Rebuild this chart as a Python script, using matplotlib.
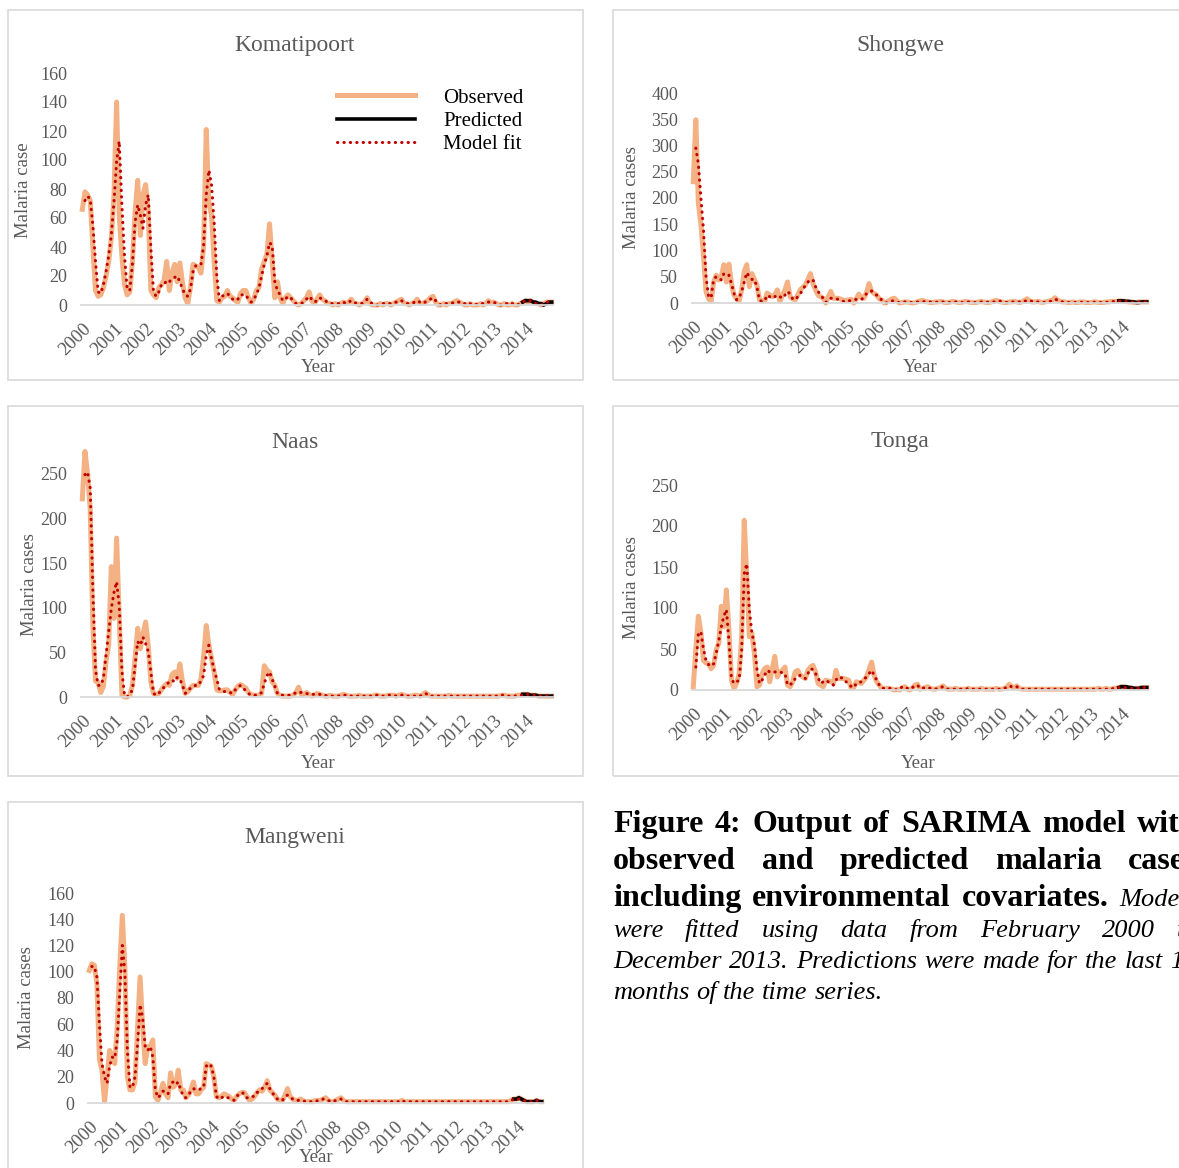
import numpy as np
import matplotlib
matplotlib.use('Agg')
import matplotlib.pyplot as plt
from matplotlib.lines import Line2D
from matplotlib.patches import Rectangle

W, H = 1179, 1168
nan = np.nan

# ---- data (monthly, Feb 2000 .. Dec 2014) ----
years = [str(y) for y in range(2000, 2015)]
year_idx = [12 * k for k in range(len(years))]
pred_start = 167

komati_obs = [
    66, 78, 76, 72, 40, 10, 6, 7, 12, 20, 30, 46, 76, 140, 62, 34, 14, 7, 9, 30,
    64, 86, 48, 76, 83, 64, 10, 7, 5, 12, 14, 17, 30, 10, 22, 28, 16, 29, 15, 5,
    1, 12, 28, 27, 26, 22, 40, 121, 70, 62, 30, 3, 2, 5, 6, 10, 6, 5, 3, 2,
    8, 10, 10, 5, 1, 4, 10, 12, 25, 30, 35, 56, 30, 5, 16, 5, 1, 5, 7, 5,
    3, 1, 0, 1, 3, 5, 9, 3, 1, 4, 7, 4, 3, 1, 1, 0, 1, 0, 1, 2,
    1, 2, 4, 1, 1, 0, 1, 2, 5, 1, 0, 0, 0, 1, 0, 1, 1, 0, 1, 2,
    3, 4, 1, 1, 0, 1, 2, 4, 1, 1, 2, 3, 5, 6, 2, 0, 0, 1, 0, 1,
    1, 2, 3, 2, 1, 0, 0, 1, 0, 0, 0, 1, 0, 1, 3, 1, 2, 1, 0, 0,
    1, 0, 0, 1, 0, 0, 1, 2, 3, 2, 3, 2, 1, 1, 0, 1, 2, 2, 2]
komati_fit = [
    nan, 72, 75, 73, 55, 30, 9, 8, 14, 23, 34, 48, 71, 99, 113, 69, 34, 11, 10, 28,
    57, 69, 62, 53, 69, 76, 39, 9, 6, 9, 14, 14, 17, 16, 18, 19, 20, 16, 11, 7,
    6, 11, 23, 27, 28, 28, 41, 76, 93, 83, 57, 20, 3, 6, 7, 8, 6, 4, 3, 4,
    7, 7, 7, 4, 2, 4, 7, 12, 20, 28, 34, 43, 41, 16, 10, 7, 3, 4, 6, 5,
    3, 1, 1, 1, 2, 4, 6, 4, 2, 3, 5, 4, 3, 2, 1, 1, 1, 1, 1, 2,
    1, 2, 3, 2, 1, 1, 1, 2, 4, 2, 1, 0, 0, 1, 1, 1, 1, 1, 1, 2,
    3, 3, 2, 1, 1, 1, 2, 3, 2, 1, 2, 3, 4, 5, 3, 1, 0, 1, 1, 1,
    1, 2, 2, 2, 1, 1, 0, 1, 0, 0, 1, 1, 1, 1, 2, 2, 2, 1, 0, 0,
    1, 1, 0, 1, 0, 0, 1, 2, 3, 3, 3, 2, 1, 1, 0, 1, 2, 2, 2]
komati_pred = [2, 3, 3, 3, 2, 2, 1, 1, 0, 1, 2, 2]

shongwe_obs = [
    231, 349, 190, 150, 90, 22, 8, 3, 40, 53, 44, 50, 73, 40, 74, 37, 15, 8, 4, 25,
    60, 73, 31, 56, 45, 34, 6, 4, 3, 19, 15, 12, 15, 25, 3, 15, 25, 40, 12, 8,
    6, 15, 25, 30, 34, 45, 56, 37, 25, 15, 12, 9, 0, 12, 22, 9, 9, 9, 7, 5,
    5, 6, 7, 0, 8, 17, 10, 9, 20, 37, 22, 18, 15, 8, 6, 0, 2, 5, 8, 9,
    4, 0, 1, 2, 2, 1, 0, 1, 2, 4, 5, 3, 2, 1, 1, 2, 2, 3, 2, 1,
    1, 2, 3, 2, 1, 1, 2, 3, 2, 1, 1, 1, 2, 3, 2, 1, 1, 2, 4, 5,
    3, 2, 1, 1, 2, 2, 3, 2, 1, 2, 5, 8, 4, 2, 2, 3, 2, 1, 2, 3,
    4, 6, 10, 5, 3, 2, 2, 1, 1, 2, 1, 1, 2, 2, 1, 1, 1, 2, 2, 1,
    1, 1, 2, 2, 3, 3, 3, 4, 4, 3, 3, 2, 2, 1, 1, 2, 2, 2, 2]
shongwe_fit = [
    nan, 295, 265, 200, 140, 50, 12, 10, 45, 50, 47, 44, 56, 53, 53, 37, 18, 6, 10, 22,
    40, 58, 50, 45, 45, 30, 5, 3, 4, 15, 12, 9, 12, 15, 12, 9, 15, 22, 17, 8,
    6, 12, 18, 25, 34, 40, 44, 44, 31, 22, 15, 9, 1, 5, 9, 9, 8, 7, 5, 3,
    2, 4, 5, 6, 7, 7, 7, 10, 18, 20, 23, 19, 15, 9, 6, 3, 0, 2, 4, 4,
    2, 0, 1, 2, 2, 1, 1, 1, 2, 2, 2, 3, 2, 2, 1, 1, 2, 2, 2, 2,
    1, 1, 2, 2, 2, 1, 1, 2, 2, 2, 1, 1, 1, 2, 2, 2, 1, 1, 2, 3,
    4, 3, 2, 1, 1, 2, 2, 2, 2, 1, 3, 5, 5, 3, 2, 2, 2, 2, 1, 2,
    3, 4, 7, 6, 4, 2, 2, 1, 1, 1, 1, 1, 1, 2, 1, 1, 1, 1, 2, 1,
    1, 1, 1, 2, 2, 3, 3, 3, 4, 3, 3, 2, 2, 1, 1, 2, 2, 2, 2]
shongwe_pred = [4, 4, 4, 3, 3, 2, 2, 1, 1, 2, 2, 2]

naas_obs = [
    222, 275, 250, 210, 80, 18, 16, 5, 12, 40, 58, 146, 88, 178, 90, 2, 0, 0, 2, 13,
    43, 77, 54, 70, 84, 58, 17, 4, 2, 4, 8, 12, 15, 13, 25, 28, 21, 37, 17, 4,
    6, 10, 13, 13, 13, 20, 45, 80, 58, 43, 28, 8, 7, 7, 8, 8, 5, 3, 8, 12,
    14, 12, 10, 5, 3, 2, 2, 2, 4, 35, 30, 28, 17, 13, 4, 2, 1, 1, 1, 1,
    2, 5, 11, 3, 3, 5, 3, 1, 2, 4, 3, 2, 1, 1, 2, 1, 1, 1, 2, 3,
    2, 1, 1, 1, 1, 2, 1, 1, 1, 1, 1, 2, 2, 1, 1, 1, 2, 2, 2, 1,
    2, 3, 2, 1, 1, 1, 2, 2, 1, 2, 5, 3, 1, 1, 1, 1, 1, 1, 1, 2,
    1, 1, 1, 1, 1, 1, 1, 1, 1, 1, 1, 1, 1, 1, 1, 1, 1, 1, 1, 2,
    2, 1, 1, 1, 1, 2, 2, 3, 3, 3, 2, 2, 2, 1, 1, 1, 1, 1, 1]
naas_fit = [
    nan, 249, 252, 234, 120, 30, 13, 13, 21, 47, 73, 99, 117, 129, 103, 30, 2, 0, 3, 8,
    35, 62, 58, 67, 60, 51, 28, 4, 2, 4, 8, 11, 14, 17, 19, 17, 22, 20, 13, 4,
    6, 10, 12, 13, 13, 18, 24, 47, 58, 43, 30, 20, 8, 7, 6, 6, 5, 4, 8, 11,
    13, 10, 7, 4, 2, 2, 2, 3, 5, 15, 24, 28, 20, 12, 4, 2, 2, 2, 2, 2,
    3, 5, 6, 5, 4, 4, 3, 3, 3, 3, 3, 2, 2, 1, 1, 1, 1, 1, 2, 2,
    2, 1, 1, 1, 1, 1, 1, 1, 1, 1, 1, 2, 2, 1, 1, 1, 2, 2, 2, 1,
    2, 2, 2, 1, 1, 1, 1, 2, 1, 2, 4, 3, 1, 1, 1, 1, 1, 1, 1, 1,
    1, 1, 1, 1, 1, 1, 1, 1, 1, 1, 1, 1, 1, 1, 1, 1, 1, 1, 1, 2,
    2, 1, 1, 1, 1, 2, 2, 2, 3, 3, 2, 2, 2, 1, 1, 1, 1, 1, 1]
naas_pred = [3, 3, 3, 2, 2, 2, 1, 1, 1, 1, 1, 1]

tonga_obs = [
    4, 50, 90, 70, 36, 33, 32, 26, 30, 49, 57, 102, 77, 122, 73, 12, 2, 8, 20, 65,
    207, 138, 65, 69, 45, 4, 6, 20, 26, 28, 10, 26, 41, 16, 22, 24, 28, 6, 4, 10,
    22, 24, 18, 16, 14, 24, 28, 30, 22, 8, 6, 4, 12, 11, 10, 8, 24, 14, 14, 14,
    13, 12, 2, 3, 10, 9, 8, 12, 16, 25, 34, 18, 10, 6, 2, 2, 2, 2, 1, 0,
    1, 0, 2, 4, 1, 0, 2, 6, 7, 1, 2, 3, 4, 2, 1, 1, 2, 3, 5, 2,
    1, 1, 1, 2, 1, 1, 1, 1, 2, 1, 1, 1, 1, 2, 1, 1, 1, 1, 1, 2,
    1, 1, 2, 3, 7, 4, 3, 5, 2, 1, 1, 1, 1, 1, 1, 1, 1, 1, 1, 1,
    1, 1, 1, 1, 1, 1, 1, 1, 1, 1, 1, 1, 1, 1, 1, 1, 1, 1, 1, 2,
    1, 1, 2, 1, 1, 2, 2, 3, 4, 4, 3, 3, 2, 2, 2, 2, 3, 3, 3]
tonga_fit = [
    nan, 28, 69, 71, 50, 36, 31, 29, 32, 45, 60, 77, 90, 98, 60, 14, 8, 10, 12, 49,
    142, 154, 98, 70, 55, 25, 8, 12, 18, 24, 22, 21, 22, 22, 22, 21, 20, 6, 7, 8,
    14, 16, 18, 16, 14, 20, 26, 25, 20, 15, 8, 10, 12, 10, 8, 6, 12, 16, 15, 14,
    10, 8, 4, 3, 8, 9, 10, 13, 16, 20, 24, 18, 12, 6, 2, 2, 2, 2, 2, 1,
    0, 1, 4, 4, 2, 1, 3, 5, 6, 2, 2, 3, 3, 2, 1, 1, 2, 3, 4, 3,
    1, 1, 1, 1, 1, 1, 1, 1, 2, 1, 1, 1, 1, 1, 1, 1, 1, 1, 1, 1,
    1, 1, 2, 3, 5, 4, 3, 4, 2, 1, 1, 1, 1, 1, 1, 1, 1, 1, 1, 1,
    1, 1, 1, 1, 1, 1, 1, 1, 1, 1, 1, 1, 1, 1, 1, 1, 1, 1, 1, 1,
    1, 1, 1, 1, 1, 2, 2, 3, 3, 3, 3, 3, 2, 2, 2, 2, 3, 3, 3]
tonga_pred = [3, 4, 4, 4, 3, 3, 2, 2, 2, 3, 3, 3]

mangweni_obs = [
    101, 106, 105, 91, 33, 25, 1, 20, 40, 36, 30, 58, 104, 143, 104, 20, 10, 10, 16, 58,
    96, 58, 30, 43, 43, 48, 5, 2, 8, 15, 7, 4, 23, 12, 14, 25, 10, 10, 4, 6,
    10, 16, 7, 7, 10, 12, 30, 29, 28, 20, 5, 4, 5, 7, 6, 5, 3, 2, 5, 7,
    8, 8, 5, 2, 3, 5, 8, 10, 9, 12, 17, 10, 8, 6, 3, 2, 2, 6, 11, 5,
    3, 2, 2, 3, 2, 1, 1, 1, 1, 2, 2, 2, 3, 4, 2, 1, 1, 2, 3, 4,
    2, 1, 1, 1, 1, 1, 1, 1, 1, 1, 1, 1, 1, 1, 1, 1, 1, 1, 1, 1,
    1, 1, 1, 2, 1, 1, 1, 1, 1, 1, 1, 1, 1, 1, 1, 1, 1, 1, 1, 1,
    1, 1, 1, 1, 1, 1, 1, 1, 1, 1, 1, 1, 1, 1, 1, 1, 1, 1, 1, 1,
    1, 1, 1, 1, 1, 1, 2, 3, 3, 4, 3, 2, 1, 1, 1, 1, 2, 1, 1]
mangweni_fit = [
    nan, 104, 104, 96, 60, 30, 20, 15, 28, 35, 34, 48, 84, 120, 100, 40, 12, 12, 20, 45,
    75, 65, 43, 40, 43, 35, 10, 4, 6, 9, 9, 7, 15, 16, 14, 16, 10, 5, 4, 6,
    9, 11, 10, 10, 11, 12, 28, 30, 28, 20, 5, 3, 4, 5, 4, 4, 3, 2, 5, 7,
    8, 7, 4, 4, 5, 5, 8, 9, 11, 13, 15, 11, 8, 5, 3, 2, 2, 5, 6, 5,
    3, 2, 2, 2, 2, 1, 1, 1, 1, 1, 2, 2, 3, 3, 2, 1, 1, 2, 3, 3,
    2, 1, 1, 1, 1, 1, 1, 1, 1, 1, 1, 1, 1, 1, 1, 1, 1, 1, 1, 1,
    1, 1, 1, 2, 1, 1, 1, 1, 1, 1, 1, 1, 1, 1, 1, 1, 1, 1, 1, 1,
    1, 1, 1, 1, 1, 1, 1, 1, 1, 1, 1, 1, 1, 1, 1, 1, 1, 1, 1, 1,
    1, 1, 1, 1, 1, 1, 2, 3, 3, 3, 3, 2, 1, 1, 1, 1, 2, 1, 1]
mangweni_pred = [3, 3, 4, 3, 2, 1, 1, 1, 1, 2, 1, 1]

# ---- style ----
plt.rcParams['font.family'] = ['Liberation Serif', 'DejaVu Serif']
OBS = '#F4B183'
FIT = '#C00000'
GREY = '#595959'
FRAME = '#D9D9D9'
DOTS = (0, (0.1, 2.0))

fig = plt.figure(figsize=(W / 100, H / 100), dpi=100)


def fx(x):
    return x / W


def fy(y):
    return 1 - y / H


def panel(box, plot, ylim, yticks, title, ylabel, ylab_xy, year_xy, obs, fit, pred):
    bx0, by0, bx1, by1 = box
    fig.add_artist(Rectangle((fx(bx0), fy(by1)), fx(bx1) - fx(bx0), fy(by0) - fy(by1),
                             transform=fig.transFigure, fill=False, ec=FRAME, lw=1.2))
    l, r, t, b = plot
    ax = fig.add_axes([fx(l), fy(b), fx(r) - fx(l), fy(t) - fy(b)])
    x = np.arange(len(obs))
    ax.plot(x, obs, color=OBS, lw=3.6, solid_joinstyle='round', clip_on=False)
    xp = np.arange(pred_start, pred_start + len(pred))
    ax.plot(xp, pred, color='black', lw=2.6, clip_on=False)
    ax.plot(x, fit, color=FIT, lw=2.2, linestyle=DOTS, dash_capstyle='round', clip_on=False)
    ax.set_xlim(-0.5, len(obs) - 0.5)
    ax.set_ylim(*ylim)
    ax.set_yticks(yticks)
    ax.set_yticklabels([str(v) for v in yticks], color=GREY, fontsize=13)
    ax.set_xticks(year_idx)
    ax.set_xticklabels(years, rotation=45, ha='right', va='top', rotation_mode='anchor',
                       color=GREY, fontsize=13.5)
    ax.tick_params(axis='y', length=0, pad=10)
    ax.tick_params(axis='x', length=0, pad=11)
    for s in ['top', 'right', 'left']:
        ax.spines[s].set_visible(False)
    ax.spines['bottom'].set_color(FRAME)
    ax.spines['bottom'].set_linewidth(1.3)
    ax.patch.set_alpha(0)

    fig.text(fx(title[1]), fy(title[2]), title[0], ha='center', va='center', color=GREY, fontsize=17)
    fig.text(fx(ylab_xy[0]), fy(ylab_xy[1]), ylabel, rotation=90, ha='center', va='center',
             color=GREY, fontsize=13.5)
    fig.text(fx(year_xy[0]), fy(year_xy[1]), 'Year', ha='center', va='center', color=GREY, fontsize=13.5)
    return ax


ax1 = panel((8, 10, 583, 380), (81, 553, 73, 305), (0, 160), range(0, 161, 20),
            ('Komatipoort', 295, 46), 'Malaria case', (24, 190), (318, 367),
            komati_obs, komati_fit, komati_pred)
panel((613, 10, 1200, 380), (692, 1148, 93, 303), (0, 400), range(0, 401, 50),
      ('Shongwe', 900, 46), 'Malaria cases', (632, 198), (920, 367),
      shongwe_obs, shongwe_fit, shongwe_pred)
panel((8, 406, 583, 776), (81, 553, 447, 697), (0, 280), range(0, 251, 50),
      ('Naas', 295, 442), 'Malaria cases', (29, 585), (318, 763),
      naas_obs, naas_fit, naas_pred)
panel((613, 406, 1200, 776), (692, 1148, 485, 690), (0, 250), range(0, 251, 50),
      ('Tonga', 900, 442), 'Malaria cases', (632, 588), (918, 763),
      tonga_obs, tonga_fit, tonga_pred)
panel((8, 802, 583, 1200), (88, 543, 893, 1103), (0, 160), range(0, 161, 20),
      ('Mangweni', 295, 838), 'Malaria cases', (27, 998), (316, 1158),
      mangweni_obs, mangweni_fit, mangweni_pred)

handles = [Line2D([], [], color=OBS, lw=3.6),
           Line2D([], [], color='black', lw=2.6),
           Line2D([], [], color=FIT, lw=2.2, linestyle=DOTS, dash_capstyle='round')]
ax1.legend(handles, ['Observed', 'Predicted', 'Model fit'], loc='upper left',
           bbox_to_anchor=(fx(337), fy(88)), bbox_transform=fig.transFigure,
           frameon=False, fontsize=15, handlelength=3.75, handletextpad=1.35,
           labelspacing=0.18, borderpad=0, borderaxespad=0)

# ---- caption (justified block, cut at the right edge like the source) ----
caption = [
    ('Figure 4: Output of SARIMA model with', '', 832, True),
    ('observed and predicted malaria cases', '', 869, True),
    ('including environmental covariates.', 'Models', 906, True),
    ('', 'were fitted using data from February 2000 to', 937, True),
    ('', 'December 2013. Predictions were made for the last 12', 968, True),
    ('', 'months of the time series.', 999, False),
]
bold = dict(fontsize=23, fontweight='bold')
ital = dict(fontsize=19, fontstyle='italic')
x_left, x_right = 613, 1197
renderer = fig.canvas.get_renderer()
for btxt, itxt, ybase, justify in caption:
    words = [(w, bold) for w in btxt.split()] + [(w, ital) for w in itxt.split()]
    items = []
    for w, st in words:
        t = fig.text(0, fy(ybase), w, va='baseline', ha='left', color='black', **st)
        items.append((t, t.get_window_extent(renderer).width))
    total = sum(wd for _, wd in items)
    if justify and len(items) > 1:
        gap = (x_right - x_left - total) / (len(items) - 1)
    else:
        gap = 0.25 * ital['fontsize'] * 100 / 72
    xpos = x_left
    for t, wd in items:
        t.set_x(fx(xpos))
        xpos += wd + gap

fig.savefig('out.png', dpi=100)
